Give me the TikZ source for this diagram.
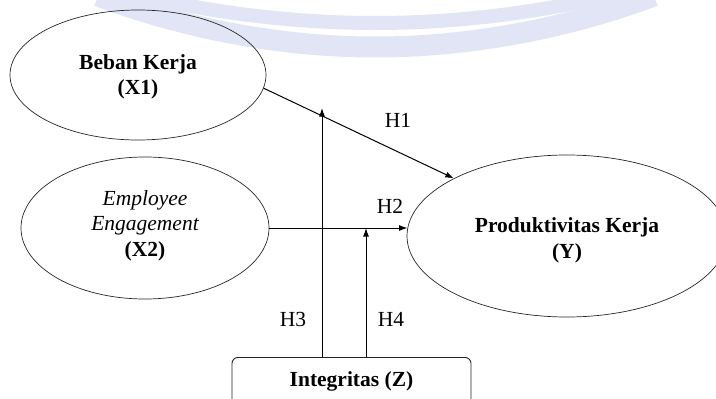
\documentclass[tikz,border=0pt]{standalone}
\usepackage{fontspec}
\setmainfont{Liberation Serif}
\usetikzlibrary{arrows.meta,shapes.geometric}
\definecolor{wmark}{RGB}{226,229,245}
\begin{document}
\begin{tikzpicture}[x=1pt,y=-1pt,
  lat/.style={draw=black!85,line width=0.7pt,ellipse,inner sep=0pt,align=center,
    font=\fontsize{21.5}{25.5}\selectfont\bfseries},
  conn/.style={line width=1pt,-{Latex[length=8.5pt,width=6pt]}},
  hlab/.style={font=\fontsize{21.5}{25}\selectfont,anchor=base,inner sep=0pt},
  band/.style={draw=wmark,line cap=butt}]
\useasboundingbox (0,0) rectangle (716,399);
% watermark
\draw[band,line width=21pt] (98,-4) parabola bend (375,47) (654,-4);
\draw[band,line width=14pt] (126,-8) parabola bend (375,23) (624,-8);
% nodes
\node[lat,minimum width=256pt,minimum height=130pt] (x1) at (138,75) {\rule{0pt}{19pt}Beban Kerja\\(X1)};
\node[lat,minimum width=248pt,minimum height=142pt] (x2) at (145,228)
  {\mdseries\itshape Employee\\\mdseries\itshape Engagement\\(X2)\rule[-9pt]{0pt}{1pt}};
\node[lat,minimum width=320pt,minimum height=162pt] (y) at (567,236) {\rule{0pt}{24pt}Produktivitas Kerja\\(Y)};
\node[draw=black!85,line width=0.9pt,rounded corners=6pt,minimum width=239pt,inner xsep=0pt,inner ysep=0pt,
  text height=29pt,text depth=44pt,anchor=north,font=\fontsize{21.5}{25}\selectfont\bfseries]
  (z) at (351.5,357) {Integritas (Z)};
% connectors
\coordinate (h3) at (322,108);
\coordinate (h4) at (366,228);
\draw[conn] (x1.-6) -- (y.153);
\draw[conn] (x2.east) -- (x2.east -| y.177);
\draw[conn] (z.north -| h3) -- (h3);
\draw[conn] (z.north -| h4) -- (h4);
% labels
\node[hlab] (l1) at (398,127) {H1};
\node[hlab] (l2) at (390,213) {H2};
\node[hlab] (l3) at (293,326) {H3};
\node[hlab] (l4) at (391,326) {H4};
\end{tikzpicture}
\end{document}
